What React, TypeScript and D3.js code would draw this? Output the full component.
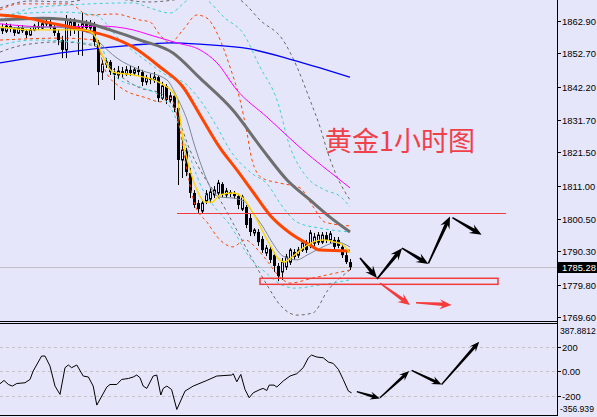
import React from 'react';
import * as d3 from 'd3';

const W = 597;
const H = 417;

// ---- candles (H1 gold) ----
const opens = [1861.0,1859.7,1861.3,1860.4,1859.1,1860.7,1859.7,1858.5,1860.1,1861.3,
1860.7,1862.0,1862.6,1861.0,1859.1,1856.9,1853.8,1860.7,1862.6,1860.1,
1861.0,1862.0,1860.7,1861.6,1856.3,1846.8,1849.3,1850.0,1846.8,1845.9,
1847.1,1846.2,1847.5,1846.5,1847.5,1846.8,1843.7,1844.9,1844.3,1845.2,
1838.6,1842.4,1838.0,1839.3,1835.5,1819.1,1822.2,1815.0,1808.7,1805.5,
1803.0,1806.2,1806.8,1808.1,1808.7,1811.5,1808.1,1809.0,1808.4,1807.7,
1803.6,1804.3,1800.8,1796.1,1796.4,1794.2,1789.8,1791.0,1789.1,1785.7,
1783.8,1785.4,1786.9,1790.1,1789.1,1790.7,1792.9,1792.3,1792.9,1793.2,
1793.2,1795.4,1793.9,1793.9,1793.9,1791.7,1789.1,1786.9];
const closes = [1859.7,1861.3,1860.4,1859.1,1860.7,1859.7,1858.5,1860.1,1861.3,1860.7,
1862.0,1862.6,1861.0,1859.1,1856.9,1853.8,1863.2,1862.6,1860.1,1861.0,
1862.0,1860.7,1861.6,1856.3,1846.8,1849.3,1850.0,1846.8,1845.9,1847.1,
1846.2,1847.5,1846.5,1847.5,1846.8,1843.7,1844.9,1844.3,1845.2,1838.6,
1842.4,1838.0,1839.3,1835.5,1819.1,1822.2,1815.3,1808.7,1804.9,1803.6,
1805.5,1808.4,1809.0,1809.6,1811.8,1808.4,1809.3,1808.4,1807.7,1804.9,
1807.4,1798.6,1796.4,1797.0,1793.2,1790.7,1791.3,1787.6,1785.7,1782.5,
1786.9,1788.5,1790.7,1788.5,1790.7,1792.9,1790.7,1796.1,1794.8,1795.4,
1795.4,1793.9,1795.8,1791.7,1792.0,1789.1,1786.9,1785.28];
const highs = [1862.0,1862.3,1862.0,1861.0,1861.3,1861.6,1860.4,1860.7,1862.0,1862.6,
1863.2,1863.8,1863.5,1861.6,1860.1,1858.2,1864.8,1863.8,1863.8,1862.0,
1865.4,1863.2,1863.2,1862.6,1856.9,1850.6,1851.2,1850.6,1848.1,1848.7,
1848.4,1848.7,1848.7,1848.4,1848.7,1847.5,1845.9,1846.2,1846.8,1845.9,
1843.7,1843.0,1840.5,1839.9,1838.0,1825.4,1822.9,1816.6,1809.6,1806.5,
1806.5,1809.6,1810.3,1810.9,1812.8,1812.1,1810.3,1809.6,1809.3,1808.4,
1808.1,1804.9,1802.1,1797.6,1797.3,1795.1,1792.3,1792.0,1790.1,1786.6,
1788.2,1789.5,1791.3,1791.0,1791.7,1793.9,1793.9,1797.0,1796.1,1796.4,
1796.4,1796.4,1796.7,1794.8,1794.8,1792.6,1790.1,1787.9];
const lows = [1858.8,1859.1,1859.4,1858.2,1858.8,1859.1,1857.5,1858.2,1859.7,1860.1,
1860.4,1861.3,1860.4,1858.2,1855.3,1851.2,1851.2,1858.2,1858.8,1852.2,
1851.9,1859.4,1860.1,1855.0,1842.7,1844.3,1848.1,1845.9,1838.0,1844.6,
1844.9,1845.6,1845.6,1845.9,1845.6,1842.4,1842.7,1843.0,1843.4,1837.4,
1838.0,1836.7,1837.0,1834.2,1811.2,1813.4,1814.0,1807.1,1804.0,1802.4,
1802.1,1805.2,1805.5,1807.1,1807.7,1807.4,1807.1,1807.4,1806.8,1803.6,
1803.0,1797.6,1795.1,1795.1,1792.0,1789.8,1788.8,1786.6,1783.8,1780.9,
1781.3,1784.4,1786.0,1787.6,1788.2,1790.1,1789.8,1791.3,1792.0,1792.3,
1792.6,1792.9,1792.9,1790.7,1791.3,1788.2,1786.3,1784.4];

const priceTicks = [1862.90, 1852.70, 1842.20, 1831.70, 1821.50, 1811.00, 1800.50, 1790.30, 1779.80, 1769.60];
const lastPrice = 1785.28;
const cciTicks = [200, 0, -200];
const cciMax = 387.8812;
const cciMin = -356.939;

type P = [number, number];
// indicator read-offs: [bar index, value]
const maBlue: P[] = [[-0.5,1849.7],[16.25,1853.1],[32.75,1855.3],[42,1856.0],[49.5,1855.6],[62,1854.1],[72.75,1850.6],[79.5,1848.1],[87,1845.2]];
const maMagenta: P[] = [[-0.5,1862.0],[12,1861.0],[24.5,1861.3],[32.75,1860.1],[37,1858.5],[43.75,1856.0],[49.5,1853.8],[53.75,1849.7],[58.75,1841.1],[66.25,1832.6],[75.25,1822.2],[84.5,1812.8],[87,1810.3]];
const maGray: P[] = [[-0.5,1863.2],[10.25,1863.8],[20.25,1862.6],[27,1860.1],[34.5,1856.9],[42.75,1852.8],[49.5,1844.9],[57.75,1834.8],[65.25,1822.2],[71.25,1812.8],[77,1806.5],[82,1801.1],[87,1796.4]];
const maOrange: P[] = [[-0.5,1864.8],[4.5,1864.2],[12,1862.3],[20.25,1860.1],[27,1857.9],[32.75,1854.7],[39.5,1848.4],[45.25,1842.1],[49.5,1833.3],[54.5,1822.9],[58.75,1815.9],[62.75,1809.0],[67,1801.7],[72,1796.1],[77,1792.3],[79.5,1790.7],[87,1790.4]];
const maYellow: P[] = [[-0.5,1861.0],[7.75,1860.1],[20.25,1860.1],[22.75,1859.1],[25.25,1851.6],[27.75,1846.8],[32.75,1845.9],[39.5,1843.4],[43.75,1838.6],[44.5,1832.6],[45.25,1825.4],[47,1815.9],[48.75,1809.6],[50.75,1805.8],[52.5,1805.8],[54.5,1808.1],[57.75,1808.7],[60.25,1807.1],[62,1804.0],[63.75,1800.2],[65.25,1796.4],[67,1792.3],[68.75,1788.5],[70.5,1786.9],[72.5,1788.5],[75.25,1791.3],[77.75,1793.2],[80.25,1793.9],[83.25,1793.2],[85.25,1792.3],[87,1789.8]];
const maSlate: P[] = [[-0.5,1860.7],[12,1861.0],[22,1859.1],[24.5,1856.0],[28.75,1851.2],[34.5,1847.5],[41.25,1844.3],[43.75,1838.9],[46.25,1831.7],[48.25,1823.2],[50.25,1815.9],[52,1810.6],[54.5,1807.4],[57.75,1807.1],[60.75,1805.8],[62.75,1802.4],[65.25,1798.0],[67.5,1793.2],[70.25,1788.8],[73.75,1787.6],[76.25,1789.1],[80.25,1791.7],[83.75,1793.2],[87,1791.7]];

const bandOrangeUp: P[] = [[-0.5,1866.4],[4.5,1868.3],[17,1868.3],[21.5,1864.8],[28.25,1865.1],[34.5,1863.2],[37,1862.6],[39.5,1858.5],[42,1856.0],[45.25,1860.1],[48.75,1864.8],[51.25,1863.8],[53.75,1859.1],[57,1848.4],[59.5,1838.0],[61.25,1827.6],[62.5,1819.1],[65,1813.4],[69.5,1811.8],[74.5,1810.3],[77.5,1804.9],[80.75,1799.5],[87,1798.3]];
const bandOrangeLo: P[] = [[-0.5,1856.9],[14.5,1857.5],[23.25,1856.9],[25.75,1847.5],[29.5,1842.1],[36.25,1838.6],[39.5,1837.4],[42,1838.9],[44,1831.7],[45.75,1819.1],[48.25,1804.9],[51.25,1799.5],[54.5,1793.9],[57.75,1791.7],[60.75,1793.9],[64,1790.7],[66.5,1786.9],[69,1782.8],[72,1780.3],[77.75,1781.9],[87,1784.4]];
const bandCyanOuterUp: P[] = [[-0.5,1863.2],[7.75,1867.0],[16.25,1867.9],[32.75,1868.6],[37,1867.0],[42,1865.4],[45.75,1868.9],[48.25,1871.4],[51.25,1869.5],[55.75,1863.8],[60.25,1859.1],[64.5,1848.4],[68.75,1838.0],[72,1823.2],[75.75,1814.4],[80.75,1809.6],[84.5,1807.7],[87,1804.3]];
const bandCyanInnerUp: P[] = [[-0.5,1864.8],[14.5,1865.7],[23.25,1864.8],[29.5,1856.9],[35.75,1850.6],[42,1845.2],[45.25,1843.7],[49.5,1838.0],[53.75,1829.5],[57,1822.2],[62,1815.3],[66.5,1811.2],[69.5,1805.5],[73.75,1799.5],[79.5,1797.6],[87,1796.4]];
const bandCyanLo: P[] = [[-0.5,1855.3],[7.75,1856.9],[24.5,1855.3],[27,1847.5],[29.5,1844.3],[34.5,1842.1],[40.75,1838.0],[44,1830.7],[47,1820.0],[50.25,1809.6],[52.75,1804.9],[57,1798.6],[62,1788.2],[65.75,1783.8],[69.5,1780.0],[73.25,1778.7],[79.5,1779.7],[87,1781.3]];
const bandGrayUp: P[] = [[-0.5,1867.0],[7,1869.2],[16.25,1868.9],[24.5,1870.5],[36.25,1868.9],[42.75,1869.5],[49.5,1872.0],[57,1871.4],[60.75,1868.3],[64.5,1863.2],[70.25,1856.9],[73.75,1848.4],[77,1838.0],[79.5,1829.5],[81.25,1822.2],[83.25,1815.3],[85.75,1809.0],[87,1806.5]];
const bandGrayLo: P[] = [[-0.5,1853.1],[5.25,1855.3],[14.5,1856.3],[23.25,1855.0],[25.75,1850.6],[34.5,1841.8],[39.5,1840.2],[43.25,1834.8],[47,1822.2],[50.25,1814.4],[54.5,1806.5],[57.75,1799.2],[62,1789.1],[66.25,1779.7],[69.5,1773.4],[73.75,1770.2],[77.75,1770.9],[81.5,1778.1],[84.5,1781.9],[87,1784.4]];

// CCI read-offs: [bar index, value]
const cci: P[] = [[-0.5,-102],[0.5,-75],[1.6,-108],[2.6,-121],[3.7,-100],[5.75,-94],[7,-67],[7.8,2],[9.9,124],[10.75,124],[12,42],[13.25,-121],[14.5,-189],[15.75,29],[16.6,51],[17.4,29],[18.7,51],[20.3,-39],[21.6,-47],[22.8,-121],[23.7,-276],[26.2,-129],[27,-108],[28.7,-108],[29.9,-67],[31.6,-59],[32.8,-47],[33.7,-31],[34.5,-53],[35.3,-121],[36.2,-140],[37.8,-39],[38.7,-31],[39.7,-194],[40.3,-140],[41.2,-121],[42.4,-149],[43.7,-312],[45.75,-162],[47.8,-121],[51.2,-75],[53.7,-39],[57.4,-31],[57.8,-20],[58.7,-86],[59.7,-26],[60.75,-149],[61.8,-216],[62.8,-176],[64.5,-149],[65.3,-140],[66.2,-157],[66.8,-113],[68,-113],[68.7,-129],[70.3,-80],[72,-39],[73.7,-20],[75.3,29],[76.6,110],[77.4,132],[78.7,116],[80.3,110],[81.6,75],[82.8,64],[84.1,15],[85.3,-67],[86.6,-162],[87.4,-176]];

// annotations in data units: [i1, p1, i2, p2]
const blackArrows = [[89.5,1788.2,93.75,1781.9],[93.75,1781.6,100,1791.3],[100,1791.3,106.6,1786.3],[106.6,1786.5,112,1801.3],[112.6,1800.9,119.9,1795.5]];
const redArrows = [[94.5,1780.3,102,1773.4],[103.5,1774.1,112.4,1773.4]];
const cciArrows = [[88.7,-167,94.5,-222],[94.5,-216,101.8,2],[102.4,7,109.9,-108],[109.9,-108,119.3,241]];
const resistance = { i1: 43.75, i2: 126, p: 1802.3 };
const zone = { i1: 64.5, i2: 124, pTop: 1781.8, pBot: 1779.9 };
const title = '黄金1小时图';

const BG = '#E6E6FA';
const AXIS_X = 557;
const MAIN_BOTTOM = 321;
const CCI_TOP = 323;
const CCI_BOTTOM = 415;

function arrowPts(x1: number, y1: number, x2: number, y2: number, hl: number, hh: number, t0: number, t1: number) {
  const dx = x2 - x1, dy = y2 - y1, L = Math.hypot(dx, dy);
  const ux = dx / L, uy = dy / L, nx = -uy, ny = ux;
  const bx = x2 - ux * hl, by = y2 - uy * hl;
  const cx = x2 - ux * hl * 0.75, cy = y2 - uy * hl * 0.75;
  const pts = [
    [x1 + nx * t0 / 2, y1 + ny * t0 / 2],
    [cx + nx * t1 / 2, cy + ny * t1 / 2],
    [bx + nx * hh, by + ny * hh],
    [x2, y2],
    [bx - nx * hh, by - ny * hh],
    [cx - nx * t1 / 2, cy - ny * t1 / 2],
    [x1 - nx * t0 / 2, y1 - ny * t0 / 2],
  ];
  return pts.map(p => p[0].toFixed(1) + ',' + p[1].toFixed(1)).join(' ');
}

export default function App() {
  const x = d3.scaleLinear().domain([0, 100]).range([2, 402]);
  const y = d3.scaleLinear().domain([1769.60, 1862.90]).range([317, 21]);
  const yc = d3.scaleLinear().domain([cciMin, cciMax]).range([CCI_BOTTOM, CCI_TOP + 0.7]);

  const line = d3.line<P>().x(d => x(d[0])).y(d => y(d[1])).curve(d3.curveMonotoneX);
  const cciLine = d3.line<P>().x(d => x(d[0])).y(d => yc(d[1]));

  const font = 'Liberation Sans, Arial, sans-serif';

  const dashed = (data: P[], color: string, key: string) => (
    <path key={key} d={line(data) || ''} fill="none" stroke={color} strokeWidth={1} strokeDasharray="3,3" />
  );

  const lastY = Math.round(y(lastPrice)) + 0.5;

  return (
    <svg width={W} height={H} style={{ position: 'absolute', left: 0, top: 0, display: 'block' }} xmlns="http://www.w3.org/2000/svg">
      <defs>
        <clipPath id="mainClip"><rect x={0} y={0} width={AXIS_X} height={MAIN_BOTTOM} /></clipPath>
        <clipPath id="cciClip"><rect x={0} y={CCI_TOP} width={AXIS_X} height={CCI_BOTTOM - CCI_TOP} /></clipPath>
      </defs>
      <rect x={0} y={0} width={W} height={H} fill={BG} />

      <g clipPath="url(#mainClip)">
        {/* current price line */}
        <line x1={0} x2={AXIS_X} y1={lastY} y2={lastY} stroke="#C0C0C0" strokeWidth={1} />

        {/* candles */}
        {opens.map((o, i) => {
          const c = closes[i];
          const cx = Math.round(x(i));
          const top = Math.min(y(o), y(c));
          const h = Math.max(1, Math.abs(y(o) - y(c)));
          const bull = c > o;
          return (
            <g key={i}>
              <line x1={cx + 0.5} x2={cx + 0.5} y1={y(highs[i])} y2={y(lows[i])} stroke="#000" strokeWidth={1} />
              {bull ? (
                <rect x={cx - 0.5} y={top} width={2} height={h} fill={BG} stroke="#000" strokeWidth={1} />
              ) : (
                <rect x={cx - 1} y={top} width={3} height={h} fill="#000" />
              )}
            </g>
          );
        })}

        {/* bands */}
        {dashed(bandGrayUp, '#696969', 'gu')}
        {dashed(bandGrayLo, '#696969', 'gl')}
        {dashed(bandCyanOuterUp, '#40D0D0', 'cu')}
        {dashed(bandCyanInnerUp, '#40D0D0', 'ci')}
        {dashed(bandCyanLo, '#40D0D0', 'cl')}
        {dashed(bandOrangeUp, '#FF4500', 'ou')}
        {dashed(bandOrangeLo, '#FF4500', 'ol')}

        {/* moving averages */}
        <path d={line(maBlue) || ''} fill="none" stroke="#0000FF" strokeWidth={1.3} />
        <path d={line(maMagenta) || ''} fill="none" stroke="#FF00FF" strokeWidth={1} />
        <path d={line(maSlate) || ''} fill="none" stroke="#7A8898" strokeWidth={1} />
        <path d={line(maGray) || ''} fill="none" stroke="#6E6E6E" strokeWidth={3} />
        <path d={line(maOrange) || ''} fill="none" stroke="#FF4500" strokeWidth={3} />
        <path d={line(maYellow) || ''} fill="none" stroke="#FFD700" strokeWidth={1.4} />

        {/* annotations */}
        <line x1={x(resistance.i1)} x2={x(resistance.i2)} y1={Math.round(y(resistance.p)) + 0.5} y2={Math.round(y(resistance.p)) + 0.5} stroke="#F03C3C" strokeWidth={1} />
        <rect x={x(zone.i1)} y={y(zone.pTop)} width={x(zone.i2) - x(zone.i1)} height={y(zone.pBot) - y(zone.pTop)} fill="none" stroke="#F03C3C" strokeWidth={1.5} />
        {blackArrows.map((a, k) => (
          <polygon key={'ba' + k} points={arrowPts(x(a[0]), y(a[1]), x(a[2]), y(a[3]), 12, 5, 1.5, 3.5)} fill="#000" />
        ))}
        {redArrows.map((a, k) => (
          <polygon key={'ra' + k} points={arrowPts(x(a[0]), y(a[1]), x(a[2]), y(a[3]), 12, 5, 1.5, 3.5)} fill="#F53C3C" />
        ))}
        <text x={325} y={151} fontFamily="Noto Sans CJK SC, sans-serif" fontSize={27} fill="#F0404A">{title}</text>
      </g>

      {/* CCI panel */}
      <g clipPath="url(#cciClip)">
        {cciTicks.map(t => (
          <line key={'cl' + t} x1={0} x2={AXIS_X} y1={Math.round(yc(t)) + 0.5} y2={Math.round(yc(t)) + 0.5} stroke="#C4C4C4" strokeWidth={1} strokeDasharray="3,3" />
        ))}
        <path d={cciLine(cci) || ''} fill="none" stroke="#000" strokeWidth={1} />
        {cciArrows.map((a, k) => (
          <polygon key={'ca' + k} points={arrowPts(x(a[0]), yc(a[1]), x(a[2]), yc(a[3]), 10, 4, 1.2, 3)} fill="#000" />
        ))}
      </g>

      {/* frames */}
      <line x1={0} x2={AXIS_X + 1} y1={MAIN_BOTTOM + 0.5} y2={MAIN_BOTTOM + 0.5} stroke="#000" strokeWidth={1} />
      <line x1={0} x2={AXIS_X + 1} y1={CCI_TOP + 0.5} y2={CCI_TOP + 0.5} stroke="#000" strokeWidth={1} />
      <line x1={0} x2={AXIS_X + 1} y1={CCI_BOTTOM + 0.5} y2={CCI_BOTTOM + 0.5} stroke="#000" strokeWidth={1} />
      <line x1={AXIS_X + 0.5} x2={AXIS_X + 0.5} y1={0} y2={CCI_BOTTOM + 1} stroke="#000" strokeWidth={1} />

      {/* price axis */}
      {priceTicks.map(t => {
        const ty = Math.round(y(t)) + 0.5;
        return (
          <g key={'pt' + t}>
            <line x1={AXIS_X} x2={AXIS_X + 4} y1={ty} y2={ty} stroke="#000" strokeWidth={1} />
            <text x={562} y={ty} dy="0.35em" fontFamily={font} fontSize={9.4} fill="#000">{t.toFixed(2)}</text>
          </g>
        );
      })}
      <rect x={558} y={lastY - 5.5} width={39} height={11} fill="#000" />
      <text x={562} y={lastY} dy="0.35em" fontFamily={font} fontSize={9.4} fill="#fff">{lastPrice.toFixed(2)}</text>

      {/* CCI axis */}
      {cciTicks.map(t => {
        const ty = Math.round(yc(t)) + 0.5;
        return (
          <g key={'ct' + t}>
            <line x1={AXIS_X} x2={AXIS_X + 4} y1={ty} y2={ty} stroke="#000" strokeWidth={1} />
            <text x={562} y={ty} dy="0.35em" fontFamily={font} fontSize={9.4} fill="#000">{t === 0 ? '0.00' : String(t)}</text>
          </g>
        );
      })}
      <text x={560} y={yc(cciMax) + 7} dy="0.35em" fontFamily={font} fontSize={8.6} fill="#000">{String(cciMax)}</text>
      <text x={560} y={yc(cciMin) - 6} dy="0.35em" fontFamily={font} fontSize={8.6} fill="#000">{String(cciMin)}</text>
    </svg>
  );
}
